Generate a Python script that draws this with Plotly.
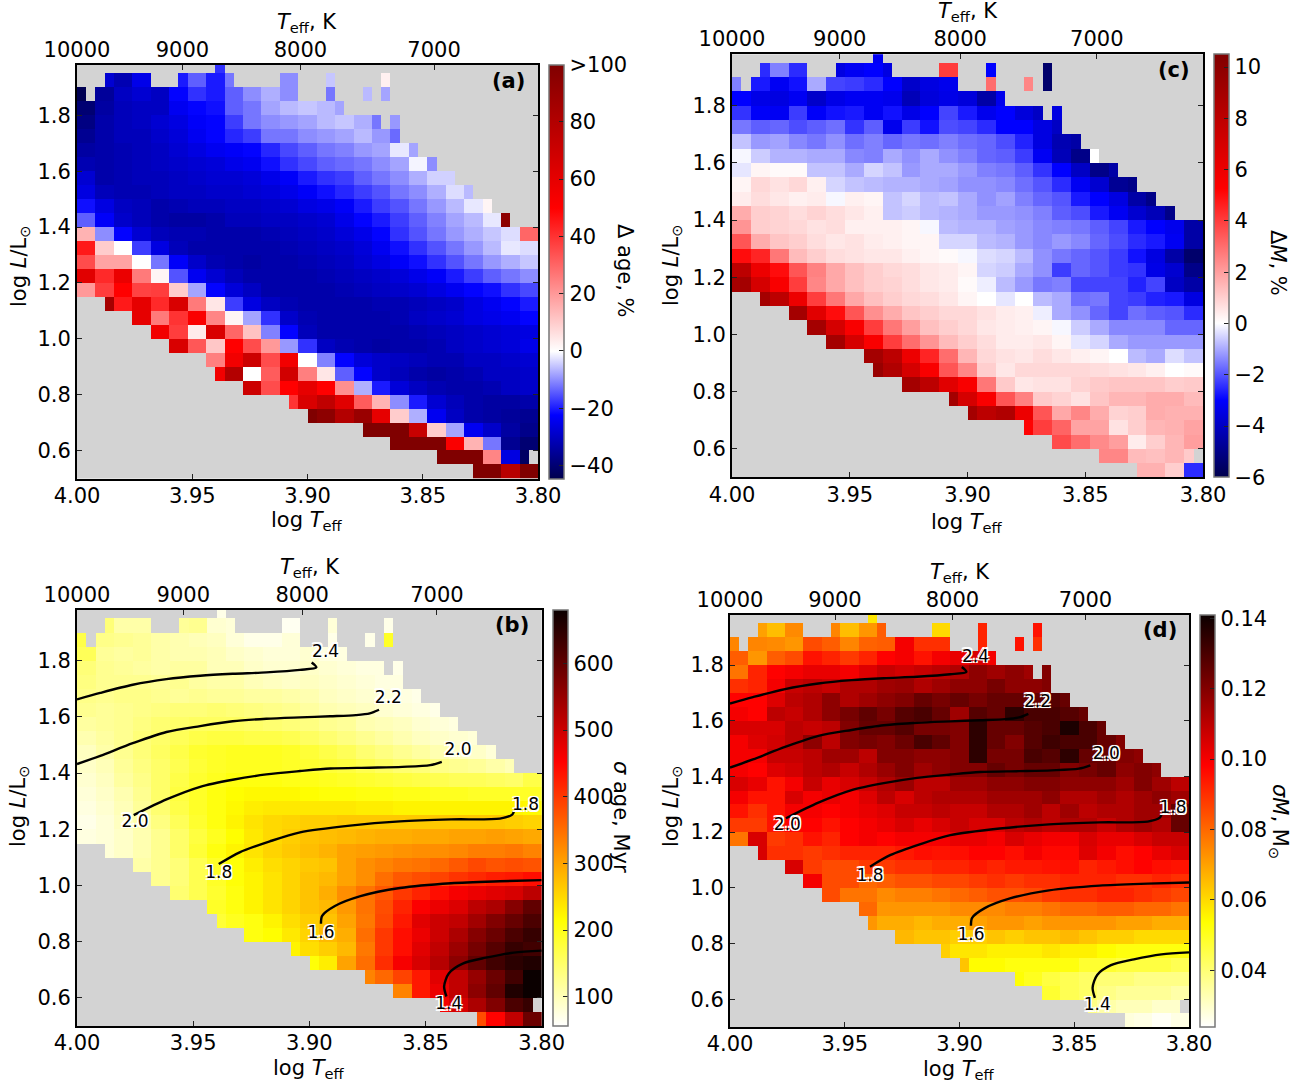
import math
import plotly.graph_objects as go

W, H = 1309, 1086
FONT = "DejaVu Sans"

# Rows of cells: lower edge of log L for each row, from the top of the diagram down
ROW_LOGL = [1.95,1.90,1.85,1.80,1.75,1.70,1.65,1.60,1.55,1.50,1.45,1.40,1.35,1.30,1.25,1.20,1.15,
            1.10,1.05,1.00,0.95,0.90,0.85,0.80,0.75,0.70,0.65,0.60,0.55,0.50]
# First and last occupied column of each row, and isolated gaps
FIRST_COL = [15,3,0,0,0,0,0,0,0,0,0,0,0,0,0,0,0,3,6,8,10,14,15,18,23,25,31,34,39,43]
LAST_COL  = [15,33,33,28,34,34,36,38,40,42,44,46,49,49,49,49,49,49,49,49,49,49,49,49,49,49,49,49,48,49]
GAPS = {1:[8,9,10,17,18,19,20,21,24,25,26,28,29,30,31,32], 2:[1,24,25,26,28,29,30,32], 4:[33]}

# (a) age difference, per cent
DELTA_AGE = [
 [-18],
 [-28,-32,-25,-22,-20,-14,-20,-12,-12,-12,-10,-8,-5,-5,3,3],
 [-44,-35,-30,-28,-30,-22,-18,-20,-14,-10,-7,-10,-10,-12,-8,-6,-8],
 [-40,-34,-31,-30,-30,-24,-22,-21,-14,-12,-8,-6,-5,-6,-8],
 [-38,-33,-31,-30,-28,-26,-23,-22,-17,-12,-10,-9,-8,-6,-5,-7,-12,-9],
 [-36,-33,-31,-31,-29,-27,-24,-22,-19,-17,-12,-12,-10,-9,-8,-6,-9,-13],
 [-34,-33,-32,-31,-30,-28,-26,-24,-23,-22,-19,-16,-14,-12,-11,-9,-8,-2,-8],
 [-32,-33,-32,-31,-30,-29,-28,-27,-25,-24,-21,-18,-16,-14,-13,-12,-10,-8,-1,-10],
 [-28,-33,-32,-31,-31,-30,-29,-28,-28,-27,-25,-23,-20,-18,-17,-14,-12,-10,-7,-4,-4],
 [-26,-31,-32,-32,-31,-30,-30,-29,-29,-28,-27,-25,-23,-21,-19,-17,-15,-12,-10,-7,-3,-6],
 [-21,-26,-30,-31,-33,-32,-31,-31,-30,-30,-29,-28,-26,-25,-23,-20,-17,-15,-12,-9,-6,-2,2],
 [-14,-23,-29,-31,-33,-34,-34,-33,-31,-31,-30,-30,-29,-28,-25,-22,-20,-17,-14,-11,-8,-6,-2,95],
 [15,-10,-22,-28,-31,-32,-32,-33,-33,-33,-32,-31,-30,-29,-27,-25,-22,-18,-15,-12,-9,-7,-5,-3,30],
 [45,10,0,-17,-26,-31,-33,-33,-33,-33,-33,-32,-31,-30,-29,-27,-24,-21,-18,-15,-12,-9,-6,-2,-3],
 [35,18,18,0,-12,-23,-29,-32,-33,-34,-33,-33,-32,-31,-30,-28,-26,-23,-21,-18,-15,-12,-9,-7,-5],
 [62,42,58,26,2,-15,-24,-28,-31,-33,-33,-33,-33,-32,-31,-30,-29,-27,-25,-23,-20,-17,-14,-12,-10],
 [20,38,50,37,38,10,-8,-22,-27,-30,-33,-33,-33,-33,-32,-31,-30,-29,-28,-26,-24,-22,-21,-18,-16],
 [85,45,60,42,65,26,5,-17,-26,-30,-32,-33,-33,-33,-33,-32,-32,-31,-30,-29,-26,-24,-22,-20],
 [60,26,40,52,24,2,-8,-18,-29,-32,-33,-33,-33,-33,-32,-30,-29,-28,-26,-25,-24,-22],
 [55,38,4,65,30,12,-11,-22,-31,-33,-33,-33,-33,-33,-32,-31,-30,-29,-28,-27,-26],
 [65,33,11,50,35,20,-9,-18,-30,-32,-33,-34,-33,-33,-32,-30,-29,-28,-27,-25],
 [25,55,70,35,55,0,-11,-22,-27,-29,-30,-31,-32,-32,-30,-30,-29,-28],
 [55,80,0,32,68,25,5,-14,-22,-29,-31,-33,-34,-33,-32,-30,-30,-29],
 [70,35,50,60,50,22,-7,-20,-27,-30,-32,-33,-33,-32,-30,-29],
 [40,65,75,62,32,15,-10,-20,-28,-31,-33,-34,-34,-33],
 [100,95,80,90,60,10,-7,-24,-30,-33,-34,-35,-36],
 [100,100,100,72,10,-8,-24,-29,-34,-37],
 [100,100,100,52,15,-12,-36,-40],
 [100,100,100,24,-26,-42],
 [100,100,78,100],
]

# (b) age uncertainty, Myr
SIGMA_AGE = [
 [70],
 [140,110,110,95,120,125,85,80,90,90,65,90,80,80,70,70],
 [170,130,125,120,110,105,100,95,80,70,70,80,80,70,70,70,190],
 [160,120,115,120,110,105,105,100,90,85,80,80,85,75,75],
 [140,125,120,115,110,115,115,100,100,90,85,85,90,85,80,75,75,70],
 [135,125,125,125,120,125,115,110,110,100,95,90,95,90,85,80,75,75],
 [130,125,130,130,125,120,125,120,120,115,115,110,105,95,90,85,80,75,70],
 [125,120,125,130,135,140,140,145,140,135,130,125,115,105,100,95,85,80,75,70],
 [115,120,125,135,145,150,155,155,155,150,145,140,135,125,120,105,100,95,85,80,75],
 [105,115,125,140,150,160,170,175,175,170,170,165,155,145,135,125,115,105,95,90,85,80],
 [95,110,125,140,155,170,185,190,195,195,195,190,180,170,160,145,135,125,115,105,95,90,80],
 [90,100,120,135,150,165,180,190,195,195,195,190,185,180,175,165,155,145,140,130,125,120,110,100],
 [85,95,115,130,150,170,185,195,205,205,205,200,200,195,190,185,180,175,170,165,160,160,155,150,170],
 [80,90,105,125,150,175,190,205,215,220,220,220,215,210,210,205,205,200,200,195,195,190,190,190,190],
 [75,85,100,120,145,170,190,205,220,230,235,235,235,235,235,230,230,225,225,225,225,225,225,225,220],
 [70,80,95,110,135,160,185,205,225,240,250,255,260,260,265,265,265,265,265,265,265,265,265,260,255],
 [75,80,90,105,125,150,175,195,215,235,250,260,270,275,280,285,290,290,295,295,300,300,305,300,295],
 [80,90,105,125,150,180,205,225,240,255,265,275,285,300,305,310,315,320,320,325,335,335,340,330],
 [110,125,140,165,190,210,230,245,255,265,270,300,320,330,340,345,355,370,385,375,380,375],
 [125,140,165,190,210,225,240,255,270,280,300,320,350,370,380,390,405,415,425,430,440],
 [145,165,185,205,225,240,255,270,290,320,345,370,400,420,440,460,470,480,490,515],
 [190,205,225,240,255,270,280,310,345,380,420,455,470,485,515,530,565,600],
 [180,195,205,225,245,260,270,300,340,385,430,480,500,510,540,570,595,620],
 [205,215,235,255,280,290,350,400,440,470,500,530,565,590,620,640],
 [225,245,260,280,340,400,440,480,510,545,580,610,640,630],
 [210,230,300,350,410,460,490,520,560,600,630,650,660],
 [330,355,390,430,480,510,550,590,630,680],
 [330,430,470,510,560,600,660,680],
 [460,490,530,570,620,640],
 [380,450,510,590],
]

# (c) mass difference, per cent
DELTA_M = [
 [-3.2],
 [-2.5,-1.5,-2.5,-2.5,-3.5,-3.2,-3,-3.5,-3.5,-3.5,4,-3,-3,-3,-5.5,-5.5],
 [-1.5,-2.7,-3.2,-2.8,-1.0,-2.2,-2.3,-2.5,-3,-3.9,-3.5,-3.3,-3,3,2,2.5,-5.5],
 [-3.0,-3.4,-3.5,-3.2,-3.9,-3.4,-3.2,-3.2,-3.3,-4.2,-3.6,-3.4,-3.6,-4.5,-3.3],
 [-2.4,-3.1,-3.2,-2.3,-3.1,-2.8,-2.7,-3.2,-2.8,-3.4,-3,-2.2,-2.7,-3.3,-3,-3.6,-4,-3.5],
 [-1.6,-1.9,-1.8,-2.1,-1.9,-1.7,-2.4,-1.9,-3.3,-2.3,-2.8,-2.1,-2.2,-2.5,-3,-3,-3.5,-4],
 [-0.7,-1.2,-1.1,-1.4,-1.6,-1.3,-1.7,-1.5,-1.8,-1.6,-1.7,-1.5,-1.7,-1.8,-2.1,-2.6,-3.5,-4.3,-4.5],
 [-0.1,-0.6,-0.9,-0.9,-1,-1,-1.4,-1.5,-1.0,-1.3,-1,-1.3,-1.5,-1.8,-1.9,-2.3,-3.2,-4.2,-5,0],
 [-0.3,0.2,0.1,0.1,-0.7,-0.7,-1,-0.5,-0.7,-1.2,-1,-1,-1.2,-1.5,-1.6,-1.9,-2.4,-3,-4,-5,-4.5],
 [0.2,0.8,0.6,0.8,0.3,-0.5,-0.7,-0.8,-0.9,-0.9,-1,-1.1,-1.3,-1.3,-1.4,-1.7,-2,-2.5,-3.2,-3.8,-4.8,-5],
 [0.4,0.7,0.5,0.3,0.4,-0.1,0.3,0.2,-0.7,-0.5,-0.8,-0.7,-1,-1.3,-1.1,-1.5,-1.8,-2,-2.7,-3,-3.5,-4.5,-5],
 [1.7,1,0.9,0.7,0.9,0.7,0.5,0.3,-0.7,-0.6,-0.8,-0.9,-1.0,-1.2,-1.2,-1.3,-1.5,-1.9,-2.1,-2.7,-3.2,-3.8,-4.2,-5.0],
 [2.2,1,0.9,0.8,0.6,0.7,0.3,0.3,0.3,0.2,-0.1,-0.8,-0.9,-0.9,-1.1,-1.2,-1.4,-1.5,-1.6,-1.9,-2.2,-2.7,-3,-3.3,-4.5],
 [3.5,1.7,1.2,1,0.7,0.5,0.6,0.4,0.3,0.2,0.2,-0.5,-0.5,-0.8,-0.9,-1.2,-1.4,-1.2,-1.4,-1.8,-2.1,-2.5,-2.7,-3.2,-4.5],
 [5,4.5,2.8,1.4,1.0,0.7,0.6,0.5,0.5,0.3,0.2,0.1,-0.1,-0.4,-0.5,-0.8,-1.3,-1.6,-1.8,-2,-2.3,-2.8,-3.5,-4.5,-5.5],
 [8,6,5,3.5,2.6,1.8,1.3,1,0.8,0.7,0.5,0.4,0.2,-0.5,-0.6,-1,-1.3,-2.3,-1.8,-2,-2.3,-2.4,-3.4,-3.8,-5],
 [9,7,5.5,4,2.5,1.8,1.3,1,0.9,0.7,0.5,0.4,0.1,-0.2,-0.8,-1.2,-1.6,-1.5,-2.2,-2.2,-2.2,-2.6,-2.2,-4,-4.5],
 [9,8,6,4,2.8,1.8,1.3,1.0,0.8,0.7,0.5,0.2,0,-0.3,0,-0.8,-1,-1.7,-1.6,-2.2,-2.3,-2.6,-2.7,-3.5],
 [9,6.5,5,3.5,2.3,1.7,1.2,1,0.8,0.8,0.6,0.4,0.3,-0.2,-1,-1.3,-1.8,-2.2,-1.7,-1.9,-2,-2.5],
 [9,7,5.5,4,2.8,2,1.3,1,0.8,0.5,0.4,0.3,0.2,-0.1,-0.6,-1,-1.4,-1.4,-1.4,-1.8,-1.8],
 [9,7,5.5,4,3,2.2,1.4,1,0.7,0.4,0.4,0.5,0.2,-0.3,-0.5,-1,-1.2,-1.2,-1.2,-1.2],
 [9,8,6,4.5,3,1.5,0.8,0.6,0.5,0.7,0.5,0.3,0.2,0,-0.8,-1,-0.4,-0.7],
 [9.5,8.5,7,5.5,3.5,2.5,1,0.5,0.8,0.8,0.8,0.8,0.7,0.6,0.5,0.3,0,0.1],
 [9,8,6.5,5.5,2.8,1.1,0.5,0.6,0.6,0.9,1.1,1.2,1.2,1.2,1,1.1],
 [9,7,5.5,3.5,2.6,1.1,0.9,0.6,1.2,1.5,1.5,1.7,1.7,1.4],
 [9,8,8.5,6,3.5,1.8,2.5,1.7,0.9,1,1.7,1.6,1.6],
 [5.2,4,3.2,1.9,1.9,0.6,1,1.5,1.6,1.9],
 [3.7,3,2.4,2.0,0.4,1,1.5,2],
 [2.5,2.5,1.4,1.3,1.5,1.1],
 [1.6,1.6,1,-2.5],
]

# (d) mass uncertainty, in thousandths of a solar mass
SIGMA_M_MILLI = [
 [58],
 [70,65,74,80,75,65,72,82,80,80,60,90,92,90,90,95],
 [75,75,74,72,85,82,75,81,82,100,90,90,90,92,90,95,90],
 [82,72,82,85,95,92,88,92,98,100,95,100,102,105,100],
 [78,92,98,100,102,102,100,104,108,106,108,110,112,118,115,118,115,120],
 [90,92,100,108,110,108,112,112,115,116,112,115,118,118,122,118,118,120],
 [98,98,104,110,112,118,112,115,118,120,125,122,125,122,125,125,125,128,125],
 [100,98,110,108,112,118,122,126,122,128,130,125,115,128,125,135,130,130,128,125],
 [105,105,105,110,108,110,120,125,125,128,122,122,120,135,125,125,128,130,138,130,125],
 [100,104,106,110,118,110,120,122,120,124,130,126,120,135,125,120,128,132,130,130,125,120],
 [100,100,108,108,110,115,115,110,120,120,118,118,120,135,122,122,130,128,135,125,125,120,118],
 [100,98,104,106,110,112,108,112,116,120,115,118,120,120,125,122,125,125,120,122,125,118,120,118],
 [105,102,95,100,108,102,105,108,112,116,110,110,115,115,118,118,120,120,118,118,118,115,120,115,110],
 [100,95,95,105,100,102,100,104,110,105,110,112,112,112,115,115,115,118,112,112,115,112,115,118,115],
 [95,90,95,100,100,98,100,102,104,108,108,110,108,108,112,112,115,110,115,110,112,112,115,115,125],
 [88,88,95,98,98,95,98,100,102,105,102,105,108,105,105,110,112,110,112,112,108,112,115,112,125],
 [78,105,88,90,95,92,98,100,98,100,100,100,102,102,100,105,102,100,100,105,102,102,105,108,108],
 [105,90,90,88,90,92,92,92,94,96,95,96,98,98,96,100,97,97,104,100,96,98,102,105],
 [105,88,85,85,88,88,90,90,92,92,94,92,94,94,95,96,92,94,96,98,96,95],
 [100,85,85,80,82,84,84,86,86,88,90,88,90,90,92,92,92,90,90,92,90],
 [85,78,78,74,76,76,78,80,82,84,84,85,88,90,90,92,92,90,88,86],
 [80,72,72,72,72,74,74,74,76,76,78,80,80,82,82,80,80,78],
 [72,68,68,66,68,68,70,72,72,70,72,72,72,72,70,70,68,68],
 [66,64,64,62,62,64,62,64,64,66,64,62,62,60,60,60],
 [62,58,58,56,56,56,58,56,56,54,52,52,52,52],
 [64,54,54,52,52,52,52,48,48,46,46,46,44],
 [53,50,46,44,42,40,40,38,38,38],
 [48,44,42,38,36,36,36,34],
 [38,34,32,32,30,30],
 [28,27,25,27],
]

# Iso-mass tracks shown in panels (b) and (d): log Teff and log L
MASS_LEVELS = ["2.4","2.2","2.0","1.8","1.6","1.4"]
TRACK_LOGT = [
 [4.0,3.990,3.976,3.9615,3.947,3.933,3.9185,3.904,3.897,3.899],
 [4.0,3.990,3.976,3.9615,3.947,3.933,3.9185,3.904,3.891,3.880,3.874,3.870],
 [3.9756,3.9615,3.947,3.933,3.9185,3.904,3.891,3.874,3.86,3.848,3.843],
 [3.939,3.930,3.917,3.904,3.8825,3.861,3.839,3.818,3.8127,3.812],
 [3.895,3.8945,3.889,3.878,3.861,3.839,3.818,3.80],
 [3.841,3.842,3.840,3.834,3.824,3.812,3.80],
]
TRACK_LOGL = [
 [1.662,1.685,1.714,1.734,1.746,1.753,1.758,1.767,1.776,1.793],
 [1.432,1.461,1.506,1.546,1.567,1.584,1.593,1.598,1.602,1.606,1.612,1.625],
 [1.25,1.306,1.351,1.376,1.395,1.407,1.416,1.419,1.422,1.428,1.44],
 [1.076,1.118,1.157,1.189,1.213,1.228,1.235,1.238,1.252,1.263],
 [0.864,0.892,0.927,0.962,0.991,1.008,1.015,1.019],
 [0.605,0.641,0.687,0.722,0.743,0.761,0.768],
]
LABEL_TEXT = ["2.4","2.2","2.0","1.8","2.0","1.8","1.6","1.4"]
LABEL_LOGT = [3.893,3.866,3.836,3.807,3.975,3.939,3.895,3.840]
LABEL_LOGL = [1.828,1.665,1.478,1.283,1.224,1.040,0.827,0.575]

TEFF_TICKS = [10000,9000,8000,7000]
LOGT_TICKS = [4.00,3.95,3.90,3.85,3.80]
LOGL_TICKS = [0.6,0.8,1.0,1.2,1.4,1.6,1.8]

COL_WIDTH = 0.004
ROW_HEIGHT = 0.05
N_COLS = 50
COL_CENTRES = [4.0 - COL_WIDTH * (i + 0.5) for i in range(N_COLS)]
ROW_CENTRES = [v + ROW_HEIGHT / 2 for v in ROW_LOGL]


def grid(rows, scale=1.0):
    z = []
    for r, vals in enumerate(rows):
        line = [None] * N_COLS
        first, last = FIRST_COL[r], LAST_COL[r]
        gaps = GAPS.get(r, [])
        c0 = first // 2
        for j, v in enumerate(vals):
            for col in (2 * (c0 + j), 2 * (c0 + j) + 1):
                if first <= col <= last and col not in gaps:
                    line[col] = v * scale
        z.append(line)
    return z


def scale_seismic(vmin, vmax, red):
    span = vmax - vmin
    return [[0, "#00004d"], [(vmin / 2 - vmin) / span, "#0000ff"], [(0 - vmin) / span, "#ffffff"],
            [(red - vmin) / span, "#ff0000"], [1, "#800000"]]


HOT_R = [[0, "#ffffff"], [0.254, "#ffff00"], [0.635, "#ff0000"], [1, "#0b0000"]]

PANELS = [
 dict(rows=DELTA_AGE, scale=1, box=(77, 65, 538, 478.6), cs=scale_seismic(-44.6, 100, 50), vmin=-44.6, vmax=100,
      cb=(549, 15), ticks=[-40,-20,0,20,40,60,80,100], labels=["−40","−20","0","20","40","60","80",">100"],
      top=(307, 23), bottom=(307, 521), yt=(20, 266), ct=(625, 270), ctitle="Δ age, %", tag="<b>(a)</b>", tagp=(508, 81), tracks=False),
 dict(rows=SIGMA_AGE, scale=1, box=(77, 610, 541.7, 1026), cs=HOT_R, vmin=56, vmax=680,
      cb=(552.5, 15), ticks=[100,200,300,400,500,600], labels=["100","200","300","400","500","600"],
      top=(310, 568), bottom=(309, 1069), yt=(19, 806), ct=(621, 817), ctitle="<i>σ</i> age, Myr", tag="<b>(b)</b>", tagp=(512, 625), tracks=True),
 dict(rows=DELTA_M, scale=1, box=(732, 54.3, 1203, 477.3), cs=scale_seismic(-6, 10.5, 5.25), vmin=-6, vmax=10.5,
      cb=(1214, 15), ticks=[-6,-4,-2,0,2,4,6,8,10], labels=["−6","−4","−2","0","2","4","6","8","10"],
      top=(968, 12), bottom=(967, 523), yt=(672, 265), ct=(1278, 263), ctitle="Δ<i>M</i>, %", tag="<b>(c)</b>", tagp=(1174, 70), tracks=False),
 dict(rows=SIGMA_M_MILLI, scale=0.001, box=(730, 615, 1189, 1027), cs=HOT_R, vmin=0.0239, vmax=0.1409,
      cb=(1200, 14.5), ticks=[0.04,0.06,0.08,0.10,0.12,0.14], labels=["0.04","0.06","0.08","0.10","0.12","0.14"],
      top=(960, 573), bottom=(959, 1070), yt=(672, 806), ct=(1279, 821), ctitle="<i>σM</i>, M<sub>⊙</sub>", tag="<b>(d)</b>", tagp=(1160, 630), tracks=True),
]

LOGT_RANGE = [4.0, 3.8]
LOGL_RANGE = [0.5, 1.98]

fig = go.Figure()
layout = dict(width=W, height=H, margin=dict(l=0, r=0, t=0, b=0, autoexpand=False), paper_bgcolor="white",
              plot_bgcolor="#d3d3d3", showlegend=False, font=dict(family=FONT, size=21, color="black"))
notes = []


def note(text, p, size=21, angle=0):
    notes.append(dict(text=text, x=p[0] / W, y=1 - p[1] / H, xref="paper", yref="paper", xanchor="center",
                      yanchor="middle", showarrow=False, textangle=angle, font=dict(family=FONT, size=size, color="black")))


for i, p in enumerate(PANELS):
    n = i + 1
    s = "" if n == 1 else str(n)
    top_id = 4 + n
    x0, y0, x1, y1 = p["box"]
    ax = dict(showgrid=False, zeroline=False, showline=True, linecolor="black", linewidth=2, ticks="inside", automargin=False,
              ticklen=5, tickwidth=1.2, tickcolor="#222", tickfont=dict(family=FONT, size=21, color="black"))
    layout["xaxis" + s] = dict(ax, domain=[x0 / W, x1 / W], range=LOGT_RANGE, anchor="y" + s,
                               tickvals=LOGT_TICKS, ticktext=[f"{v:.2f}" for v in LOGT_TICKS], ticklabelstandoff=-3)
    layout["yaxis" + s] = dict(ax, domain=[1 - y1 / H, 1 - y0 / H], range=LOGL_RANGE, anchor="x" + s, mirror="ticks",
                               tickvals=LOGL_TICKS, ticktext=[f"{v:.1f}" for v in LOGL_TICKS], ticklabelstandoff=0)
    layout[f"xaxis{top_id}"] = dict(ax, domain=[x0 / W, x1 / W], range=LOGT_RANGE, overlaying="x" + s, anchor="y" + s, side="top",
                                    tickvals=[math.log10(t) for t in TEFF_TICKS], ticktext=[str(t) for t in TEFF_TICKS], ticklabelstandoff=-2)
    fig.add_trace(go.Heatmap(
        z=grid(p["rows"], p["scale"]), x=COL_CENTRES, y=ROW_CENTRES, xaxis="x" + s, yaxis="y" + s,
        colorscale=p["cs"], zmin=p["vmin"], zmax=p["vmax"], hoverongaps=False,
        colorbar=dict(x=p["cb"][0] / W, xanchor="left", thickness=p["cb"][1], thicknessmode="pixels", xpad=0, ypad=0,
                      y=1 - y1 / H, yanchor="bottom", len=(y1 - y0) / H, lenmode="fraction",
                      outlinecolor="#777", outlinewidth=1.5, ticks="inside", ticklen=5, tickwidth=1.2, tickcolor="#222",
                      tickvals=p["ticks"], ticktext=p["labels"], tickfont=dict(family=FONT, size=21, color="black"))))
    fig.add_trace(go.Scatter(x=[math.log10(t) for t in TEFF_TICKS], y=[1.0] * len(TEFF_TICKS), mode="markers",
                             marker=dict(size=1, opacity=0), xaxis=f"x{top_id}", yaxis="y" + s, hoverinfo="skip"))
    if p["tracks"]:
        for xs, ys in zip(TRACK_LOGT, TRACK_LOGL):
            fig.add_trace(go.Scatter(x=xs, y=ys, mode="lines", line=dict(color="black", width=2.4, shape="spline", smoothing=0.8),
                                     xaxis="x" + s, yaxis="y" + s, hoverinfo="skip"))
        fig.add_trace(go.Scatter(x=LABEL_LOGT, y=LABEL_LOGL, text=LABEL_TEXT, mode="text", xaxis="x" + s, yaxis="y" + s,
                                 textposition="middle center", hoverinfo="skip", cliponaxis=False,
                                 textfont=dict(family=FONT, size=17, color="black",
                                               shadow="-1.5px -1.5px 0 white, 1.5px -1.5px 0 white, -1.5px 1.5px 0 white, 1.5px 1.5px 0 white, 0 0 2px white")))
    note("<i>T</i><sub>eff</sub>, K", p["top"])
    note("log <i>T</i><sub>eff</sub>", p["bottom"])
    note("log <i>L</i>/L<sub>⊙</sub>", p["yt"], angle=-90)
    note(p["ctitle"], p["ct"], angle=90)
    note(p["tag"], p["tagp"])

layout["annotations"] = notes
fig.update_layout(**layout)
fig.write_html("out.html", config=dict(displayModeBar=False),
               post_script="document.body.style.margin='0';document.documentElement.style.overflow='hidden';")
